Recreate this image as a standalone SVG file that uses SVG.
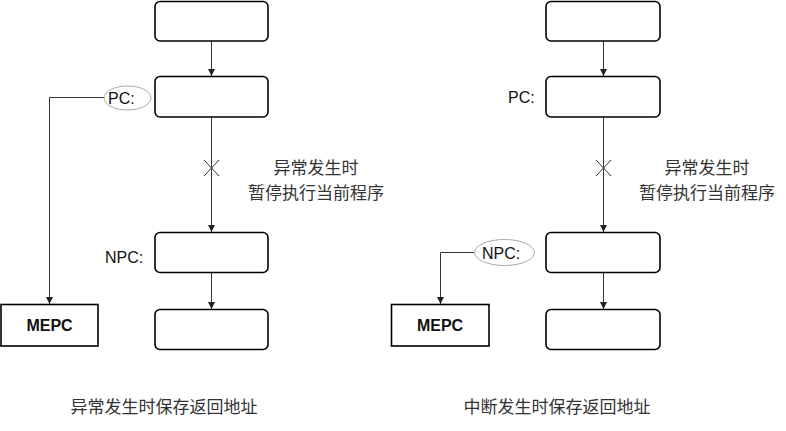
<svg xmlns="http://www.w3.org/2000/svg" width="786" height="431" viewBox="0 0 786 431">
<style>
.box{fill:#fff;stroke:#000;stroke-width:1.6}
.mepc{fill:#fff;stroke:#000;stroke-width:1.6}
.conn{fill:none;stroke:#333;stroke-width:1}
.ell{fill:#fff;stroke:#aaa;stroke-width:1}
.lbl{font-family:"Liberation Sans","Noto Sans",sans-serif;font-size:16px;fill:#111}
.cn{font-family:"Noto Sans CJK SC",sans-serif;font-size:17px;fill:#333}
.bold{font-family:"Liberation Sans","Noto Sans",sans-serif;font-size:16px;font-weight:bold;fill:#111}
</style>
<defs>
<marker id="arr" viewBox="0 0 10 10" refX="10" refY="5" markerWidth="7" markerHeight="7" orient="auto" markerUnits="userSpaceOnUse">
<path d="M0,0 L10,5 L0,10 z" fill="#222"/>
</marker>
</defs>
<rect width="786" height="431" fill="#fff"/>
<g id="connectors">
<line class="conn" x1="211.5" y1="41" x2="211.5" y2="76" marker-end="url(#arr)"/>
<line class="conn" x1="211.5" y1="117" x2="211.5" y2="232" marker-end="url(#arr)"/>
<line class="conn" x1="211.5" y1="272" x2="211.5" y2="309" marker-end="url(#arr)"/>
<path class="conn" d="M104,97.5 H49.5 V304" marker-end="url(#arr)"/>
<path class="conn" d="M204,160 L219,176 M219,160 L204,176"/>
<line class="conn" x1="603.5" y1="41" x2="603.5" y2="76" marker-end="url(#arr)"/>
<line class="conn" x1="603.5" y1="117" x2="603.5" y2="232" marker-end="url(#arr)"/>
<line class="conn" x1="603.5" y1="272" x2="603.5" y2="309" marker-end="url(#arr)"/>
<path class="conn" d="M474,252.5 H440.5 V304" marker-end="url(#arr)"/>
<path class="conn" d="M596,160 L611,176 M611,160 L596,176"/>
</g>
<g id="left-box1"><rect class="box" x="155" y="1.5" width="113" height="39.5" rx="5"/></g>
<g id="left-box2"><rect class="box" x="155" y="76.5" width="113" height="40.5" rx="5"/></g>
<g id="left-box3"><rect class="box" x="155" y="232.5" width="113" height="40" rx="5"/></g>
<g id="left-box4"><rect class="box" x="155" y="309.5" width="113" height="40" rx="5"/></g>
<g id="left-pc"><ellipse class="ell" cx="127.5" cy="98" rx="23.5" ry="12"/><text class="lbl" x="108" y="104">PC:</text></g>
<g id="left-npc"><text class="lbl" x="105" y="263">NPC:</text></g>
<g id="left-mepc"><rect class="mepc" x="1" y="304.5" width="97" height="41.5"/><text class="bold" x="49.5" y="331" text-anchor="middle">MEPC</text></g>
<g id="left-note"><text class="cn" x="316" y="174" text-anchor="middle">异常发生时</text><text class="cn" x="316" y="199" text-anchor="middle">暂停执行当前程序</text></g>
<g id="left-caption"><text class="cn" x="164" y="413" text-anchor="middle">异常发生时保存返回地址</text></g>

<g id="right-box1"><rect class="box" x="546" y="1.5" width="114" height="39.5" rx="5"/></g>
<g id="right-box2"><rect class="box" x="546" y="76.5" width="114" height="40.5" rx="5"/></g>
<g id="right-box3"><rect class="box" x="546" y="232.5" width="114" height="40" rx="5"/></g>
<g id="right-box4"><rect class="box" x="546" y="309.5" width="114" height="40" rx="5"/></g>
<g id="right-pc"><text class="lbl" x="508" y="103">PC:</text></g>
<g id="right-npc"><ellipse class="ell" cx="504.5" cy="252.5" rx="30" ry="13"/><text class="lbl" x="482" y="259">NPC:</text></g>
<g id="right-mepc"><rect class="mepc" x="391.5" y="304.5" width="97.5" height="41.5"/><text class="bold" x="440" y="331" text-anchor="middle">MEPC</text></g>
<g id="right-note"><text class="cn" x="707" y="174" text-anchor="middle">异常发生时</text><text class="cn" x="707" y="199" text-anchor="middle">暂停执行当前程序</text></g>
<g id="right-caption"><text class="cn" x="557" y="413" text-anchor="middle">中断发生时保存返回地址</text></g>
</svg>
